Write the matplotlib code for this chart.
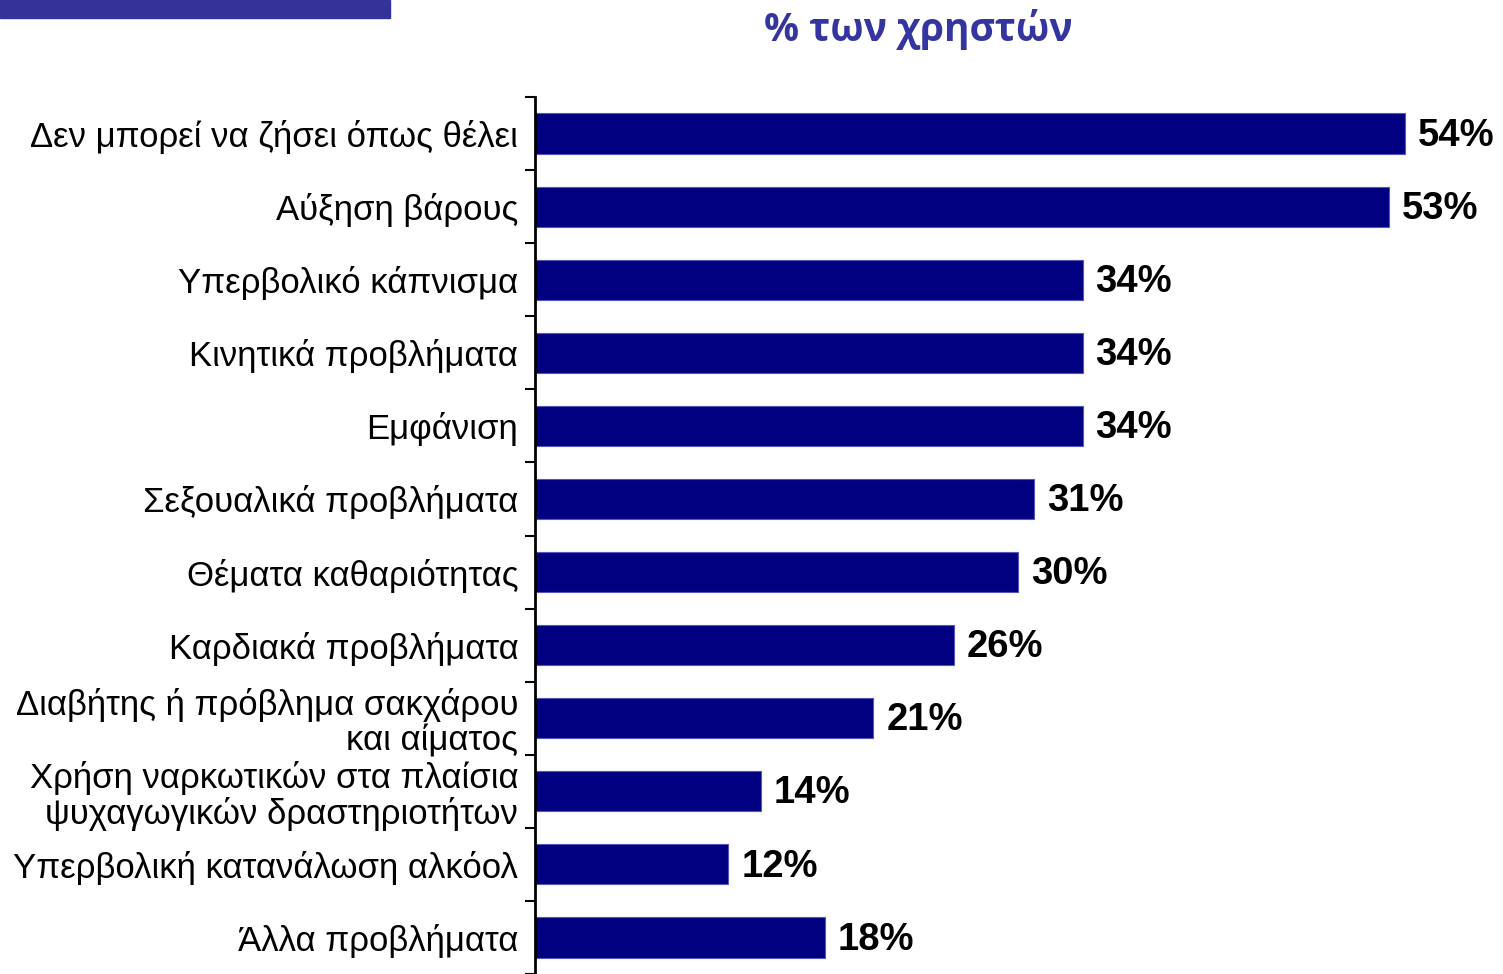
import matplotlib
matplotlib.use('Agg')
import matplotlib.pyplot as plt
import numpy as np

# Κατηγορίες και ποσοστά
categories = [
    'Δεν μπορεί να ζήσει όπως θέλει',
    'Αύξηση βάρους',
    'Υπερβολικό κάπνισμα',
    'Κινητικά προβλήματα',
    'Εμφάνιση',
    'Σεξουαλικά προβλήματα',
    'Θέματα καθαριότητας',
    'Καρδιακά προβλήματα',
    'Διαβήτης ή πρόβλημα σακχάρου\nκαι αίματος',
    'Χρήση ναρκωτικών στα πλαίσια\nψυχαγωγικών δραστηριοτήτων',
    'Υπερβολική κατανάλωση αλκόολ',
    'Άλλα προβλήματα',
]
values = [54, 53, 34, 34, 34, 31, 30, 26, 21, 14, 12, 18]
title = '% των χρηστών'

W, H = 1503, 974
fig = plt.figure(figsize=(W / 100, H / 100), dpi=100)

# Μπάρα στο πάνω αριστερό μέρος
fig.patches.append(plt.Rectangle((0, 1 - 18 / H), 390 / W, 18 / H,
                                 transform=fig.transFigure, color='#333399'))

fig.text(918 / W, 1 - 30 / H, title, ha='center', va='center',
         fontsize=28, fontweight='bold', color='#3535a0', family='Open Sans')

ax = fig.add_axes([535 / W, 0, 1 - 535 / W, 1 - 97 / H])
y = np.arange(len(categories))
ax.barh(y, values, height=0.55, color='#000080', edgecolor='#5555bb', linewidth=0.8)
ax.set_xlim(0, (W - 535) / 16.11)
ax.set_ylim(11.456, -0.476)

for yi, v in zip(y, values):
    ax.text(v + 0.8, yi + 0.03, f'{v}%', va='center', ha='left', fontsize=27.5,
            fontweight='bold', family='Liberation Sans')

ax.set_yticks(y)
ax.set_yticklabels(categories, fontsize=25, family='Liberation Sans', linespacing=1.1)
ax.tick_params(axis='y', which='major', length=0, pad=12)
ax.set_yticks(np.arange(-0.5, len(categories), 1), minor=True)
ax.tick_params(axis='y', which='minor', length=7, width=1.5, direction='out')
ax.set_xticks([])

for s in ['top', 'right', 'bottom']:
    ax.spines[s].set_visible(False)
ax.spines['left'].set_linewidth(2)

fig.savefig('out.png', dpi=100)
